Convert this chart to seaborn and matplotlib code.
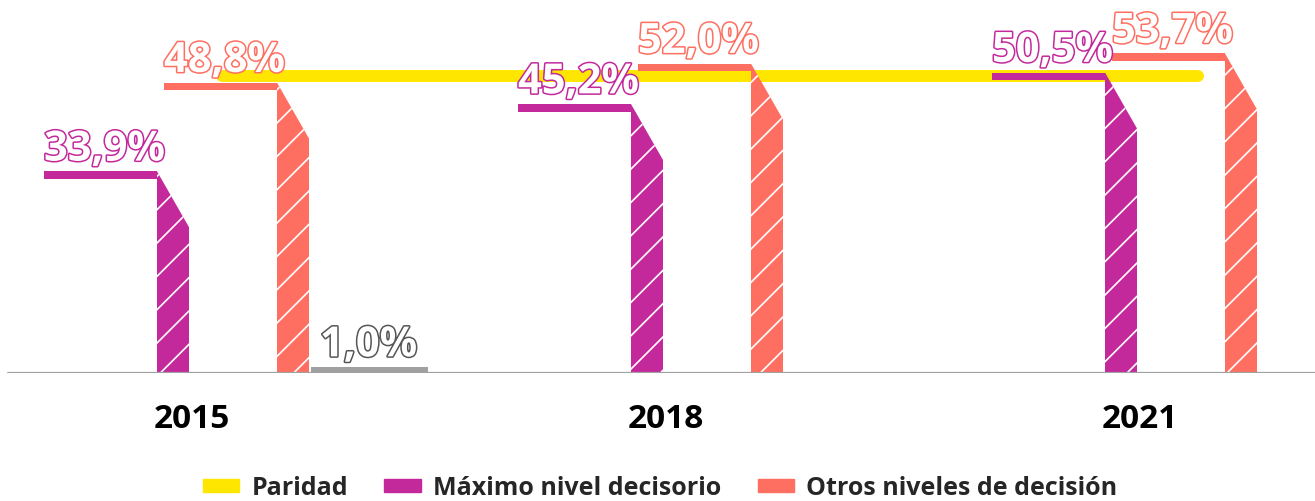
import matplotlib.pyplot as plt
import matplotlib.patheffects as pe
from matplotlib.patches import Patch
import seaborn as sns

# ------------------------------------------------------------
# Data
# ------------------------------------------------------------
years = ["2015", "2018", "2021"]
maximo = [33.9, 45.2, 50.5]          # Máximo nivel decisorio
otros = [48.8, 52.0, 53.7]           # Otros niveles de decisión
gris = [1.0, None, None]             # unlabeled grey value (2015 only)
paridad = 50.0
series_names = ["Paridad", "Máximo nivel decisorio", "Otros niveles de decisión"]

PURPLE = "#C4299C"
SALMON = "#FF6F61"
YELLOW = "#FFE600"
GREY = "#A0A0A0"

sns.set_theme(style="white")
plt.rcParams["font.family"] = ["Open Sans", "DejaVu Sans"]
plt.rcParams["hatch.linewidth"] = 1.2

# ------------------------------------------------------------
# Layout: work in pixels, converted to data units
# ------------------------------------------------------------
W, H = 1315, 502
BASE_PX = 374          # baseline, pixels from top
PX_PER_PCT = 5.95
PX_PER_GROUP = 474
CENTER0 = 192          # pixel x of first year label

fig = plt.figure(figsize=(W / 100, H / 100), dpi=100)
ax = fig.add_axes([0, (H - BASE_PX) / H, 1, BASE_PX / H])
ax.set_xlim(-CENTER0 / PX_PER_GROUP, (W - CENTER0) / PX_PER_GROUP)
ax.set_ylim(0, BASE_PX / PX_PER_PCT)


def u(px):
    return px / PX_PER_GROUP


CAP_W = u(113)
BAR_W = u(32)
CAP_H = 1.3
DROP = 9.4
LABEL_SIZE = 30


def fancy_bar(x0, value, color):
    # horizontal cap at value level, then narrow hatched column with a slanted top
    ax.bar(x0, CAP_H, width=CAP_W, bottom=value - CAP_H, align="edge",
           color=color, linewidth=0, zorder=4)
    xb = x0 + CAP_W
    ax.fill([xb, xb, xb + BAR_W, xb + BAR_W], [0, value, value - DROP, 0],
            facecolor=color, edgecolor="white", hatch="/", linewidth=0, zorder=4)
    ax.text(x0, value + 1.8, f"{value:.1f}%".replace(".", ","),
            ha="left", va="baseline", fontsize=LABEL_SIZE, fontweight="bold", color="white",
            path_effects=[pe.withStroke(linewidth=2.2, foreground=color)], zorder=6)


# paridad line
ax.plot([0 + u(30), 2 + u(58)], [paridad, paridad], color=YELLOW, lw=8.6,
        solid_capstyle="round", zorder=3)

for i in range(len(years)):
    fancy_bar(i + u(-148), maximo[i], PURPLE)
    fancy_bar(i + u(-28), otros[i], SALMON)
    if gris[i] is not None:
        ax.bar(i + u(119), gris[i], width=u(117), align="edge", color=GREY,
               linewidth=0, zorder=4)
        ax.text(i + u(128), gris[i] + 1.8, f"{gris[i]:.1f}%".replace(".", ","),
                ha="left", va="baseline", fontsize=LABEL_SIZE, fontweight="bold",
                color="white",
                path_effects=[pe.withStroke(linewidth=2.2, foreground="#555555")],
                zorder=6)

# baseline
ax.axhline(0, xmin=8 / W, xmax=1, color=GREY, lw=1.6, zorder=5)

ax.set_xticks(range(len(years)), years)
ax.tick_params(axis="x", length=0, pad=21, labelsize=24)
for lbl in ax.get_xticklabels():
    lbl.set_fontweight("bold")
    lbl.set_color("black")
ax.set_yticks([])
for s in ax.spines.values():
    s.set_visible(False)

handles = [Patch(color=c, label=n) for c, n in zip([YELLOW, PURPLE, SALMON], series_names)]
fig.legend(handles=handles, loc="center", bbox_to_anchor=(660 / W, 13 / H), ncol=3,
           frameon=False, handlelength=1.45, handleheight=0.38,
           handletextpad=0.5, columnspacing=1.45,
           prop={"weight": "bold", "size": 18})

fig.savefig("out.png", dpi=100)
